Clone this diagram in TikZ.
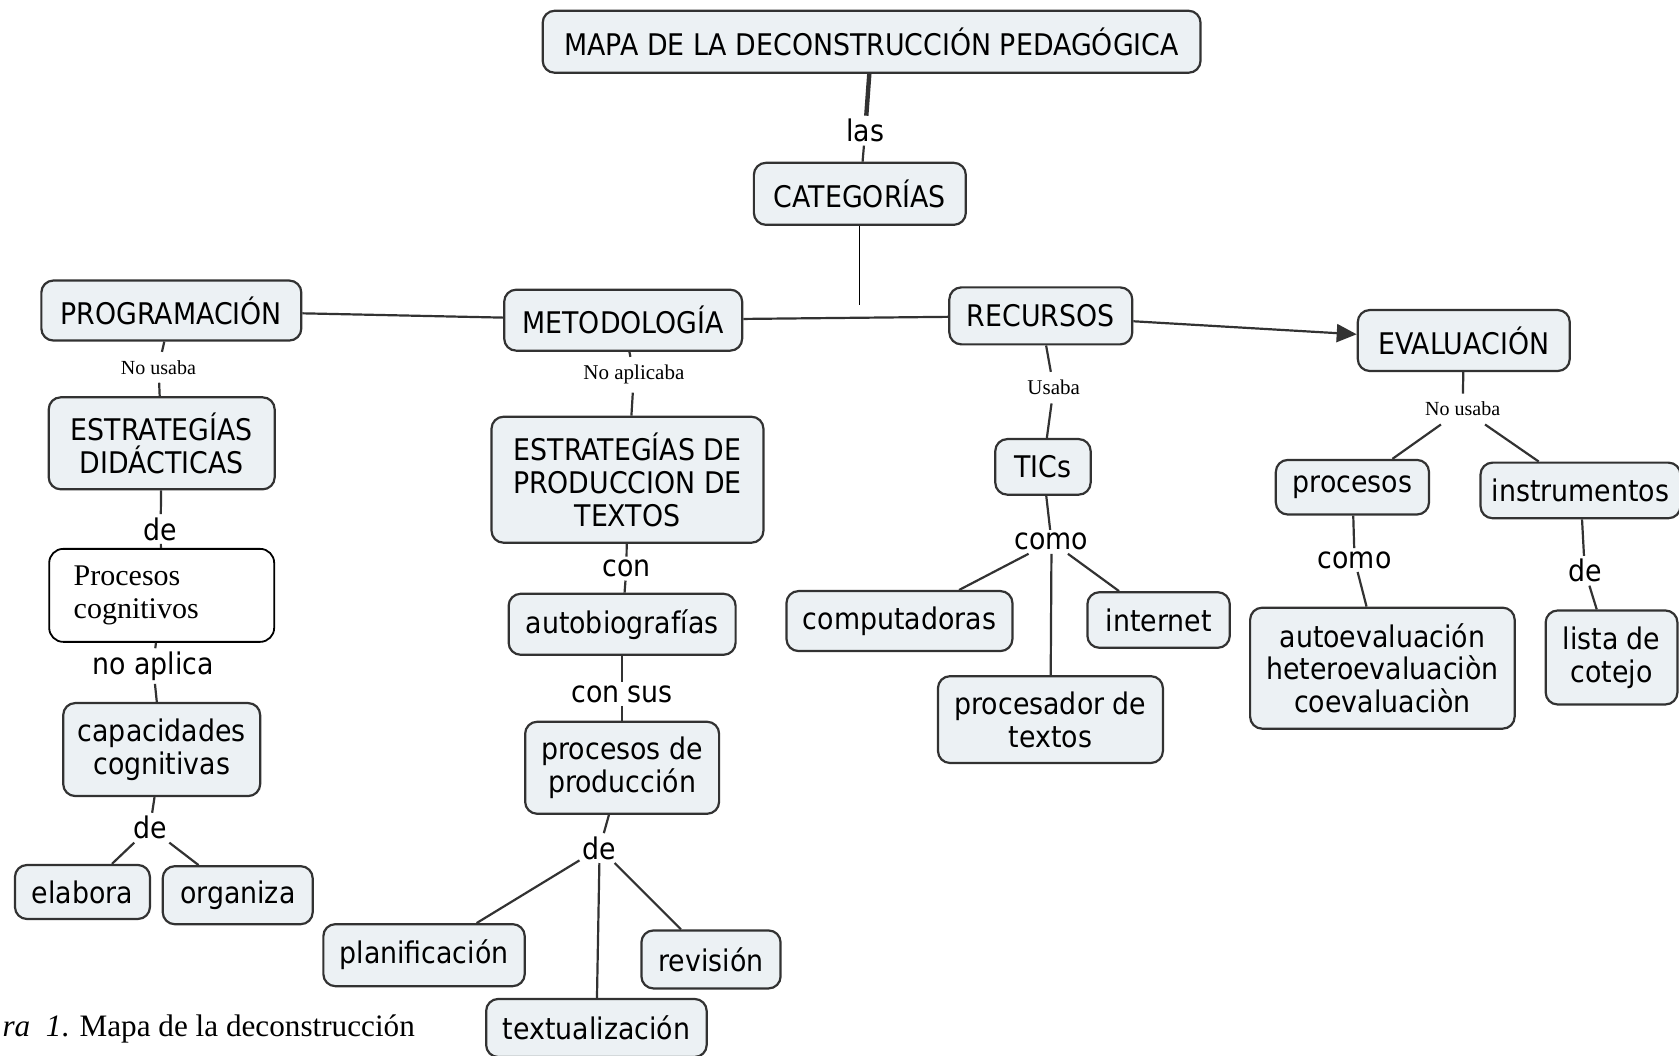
\documentclass[tikz,border=0pt]{standalone}
\usepackage{fontspec}
\usepackage{xcolor}
\usepackage{tikz}
\setmainfont{Liberation Serif}
\newfontfamily\cmapfont{DejaVu Sans}[FakeStretch=0.9]
\definecolor{cmapfill}{RGB}{236, 241, 244}
\definecolor{cmapline}{RGB}{50, 50, 50}
\usetikzlibrary{shapes,arrows.meta,positioning}

\begin{document}
\begin{tikzpicture}[x=0.5355pt, y=-0.5355pt,
    concept/.style={rectangle, rounded corners=6pt, draw=cmapline, line width=1.1pt, fill=cmapfill, align=center, inner sep=2pt, font=\cmapfont\fontsize{14.9}{16.4}\selectfont},
    linkword/.style={inner sep=1.5pt, font=\cmapfont\fontsize{14.9}{16}\selectfont},
    pasted/.style={inner sep=4pt, fill=white, font=\fontsize{10}{12}\selectfont},
    link/.style={draw=cmapline, line width=1.1pt}]
    \useasboundingbox (0,0) rectangle (1568,986);

    \node[concept, minimum width=329pt, minimum height=31pt] (mapa) at (814,39) {MAPA DE LA DECONSTRUCCIÓN PEDAGÓGICA};
    \node[linkword] (las) at (808,122) {las};
    \node[concept, minimum width=106pt, minimum height=31pt] (cat) at (803,181) {CATEGORÍAS};
    \coordinate (catend) at (803,285);

    \node[concept, minimum width=130pt, minimum height=30pt] (prog) at (160,290) {PROGRAMACIÓN};
    \node[concept, minimum width=119pt, minimum height=30.5pt] (metod) at (582,299) {METODOLOGÍA};
    \node[concept, minimum width=91.5pt, minimum height=28.5pt] (recur) at (972,295) {RECURSOS};
    \node[concept, minimum width=106pt, minimum height=30.5pt] (eval) at (1367,318) {EVALUACIÓN};

    \node[pasted] (nousaA) at (148,343) {No usaba};
    \node[concept, minimum width=113pt, minimum height=46pt] (estdid) at (151,414) {ESTRATEGÍAS\\DIDÁCTICAS};
    \node[linkword] (deA) at (150,494) {de};
    \node[rectangle, rounded corners=7pt, draw=black, line width=0.9pt, fill=white, minimum width=112.5pt, minimum height=46.5pt, text width=88pt, align=left, font=\fontsize{15}{16.6}\selectfont] (proccog) at (151,556) {Procesos\\cognitivos};
    \node[linkword] (noaplica) at (143,622) {no aplica};
    \node[concept, minimum width=98.5pt, minimum height=46.5pt] (capcog) at (151,700) {capacidades\\cognitivas};
    \node[linkword] (deB) at (140,773) {de};
    \node[concept, minimum width=67.5pt, minimum height=27pt] (elabora) at (77,833) {elabora};
    \node[concept, minimum width=75pt, minimum height=29pt] (organiza) at (222,836) {organiza};

    \node[pasted, font=\fontsize{10.5}{12}\selectfont] (noaplicaba) at (592,350) {No aplicaba};
    \node[concept, minimum width=136pt, minimum height=63pt] (estprod) at (586,448) {ESTRATEGÍAS DE\\PRODUCCION DE\\TEXTOS};
    \node[linkword] (con) at (585,531) {con};
    \node[concept, minimum width=113.5pt, minimum height=30.5pt] (autobio) at (581,583) {autobiografías};
    \node[linkword] (consus) at (581,648) {con sus};
    \node[concept, minimum width=97pt, minimum height=46pt] (procprod) at (581,717) {procesos de\\producción};
    \node[linkword] (deC) at (560,792) {de};
    \node[concept, minimum width=100.7pt, minimum height=31pt] (planif) at (396,892) {planificación};
    \node[concept, minimum width=110.3pt, minimum height=29pt] (textual) at (557,960) {textualización};
    \node[concept, minimum width=69.6pt, minimum height=29pt] (revision) at (664,896) {revisión};

    \node[pasted, font=\fontsize{10.5}{12}\selectfont] (usaba) at (984,362) {Usaba};
    \node[concept, minimum width=47.7pt, minimum height=27.8pt] (tics) at (974,436) {TICs};
    \node[linkword] (como) at (982,506) {como};
    \node[concept, minimum width=113pt, minimum height=30pt] (compu) at (840,580) {computadoras};
    \node[concept, minimum width=71.2pt, minimum height=27.8pt] (internet) at (1082,579) {internet};
    \node[concept, minimum width=112.5pt, minimum height=43.4pt] (procesador) at (981,672) {procesador de\\textos};

    \node[pasted] (nousaB) at (1366,382) {No usaba};
    \node[concept, minimum width=76.6pt, minimum height=27.3pt] (procesos) at (1263,455) {procesos};
    \node[concept, minimum width=100pt, minimum height=27.8pt] (instrum) at (1476,458) {instrumentos};
    \node[linkword] (comoB) at (1265,523) {como};
    \node[concept, minimum width=132.3pt, minimum height=60.5pt] (autoeval) at (1291,624) {autoevaluación\\heteroevaluaciòn\\coevaluaciòn};
    \node[linkword] (deD) at (1480,533) {de};
    \node[concept, minimum width=65.9pt, minimum height=47pt] (lista) at (1505,614) {lista de\\cotejo};

    \node[anchor=base west, inner sep=0pt, font=\fontsize{15.6}{19}\selectfont] (caption) at (2,968) {\textit{ra\ \ 1}. Mapa de la deconstrucción};

    \draw[link, line width=2.2pt] (mapa) -- (las);
    \draw[link] (las) -- (cat);
    \draw[black, line width=0.6pt] (cat) -- (catend);
    \draw[link] (prog) -- (metod);
    \draw[link] (metod) -- (recur);
    \draw[link, -{Triangle[length=10pt, width=9pt]}] (recur) -- (eval);

    \draw[link] (prog) -- (nousaA);
    \draw[link] (nousaA) -- (estdid);
    \draw[link] (estdid) -- (deA);
    \draw[link] (deA) -- (proccog);
    \draw[link] (proccog) -- (noaplica);
    \draw[link] (noaplica) -- (capcog);
    \draw[link] (capcog) -- (deB);
    \draw[link] (deB) -- (elabora);
    \draw[link] (deB) -- (organiza);

    \draw[link] (metod) -- (noaplicaba);
    \draw[link] (noaplicaba) -- (estprod);
    \draw[link] (estprod) -- (con);
    \draw[link] (con) -- (autobio);
    \draw[link] (autobio) -- (consus);
    \draw[link] (consus) -- (procprod);
    \draw[link] (procprod) -- (deC);
    \draw[link] (deC) -- (planif);
    \draw[link] (deC) -- (textual);
    \draw[link] (deC) -- (revision);

    \draw[link] (recur) -- (usaba);
    \draw[link] (usaba) -- (tics);
    \draw[link] (tics) -- (como);
    \draw[link] (como) -- (compu);
    \draw[link] (como) -- (internet);
    \draw[link] (como) -- (procesador);

    \draw[link] (eval) -- (nousaB);
    \draw[link] (nousaB) -- (procesos);
    \draw[link] (nousaB) -- (instrum);
    \draw[link] (procesos) -- (comoB);
    \draw[link] (comoB) -- (autoeval);
    \draw[link] (instrum) -- (deD);
    \draw[link] (deD) -- (lista);
\end{tikzpicture}
\end{document}
